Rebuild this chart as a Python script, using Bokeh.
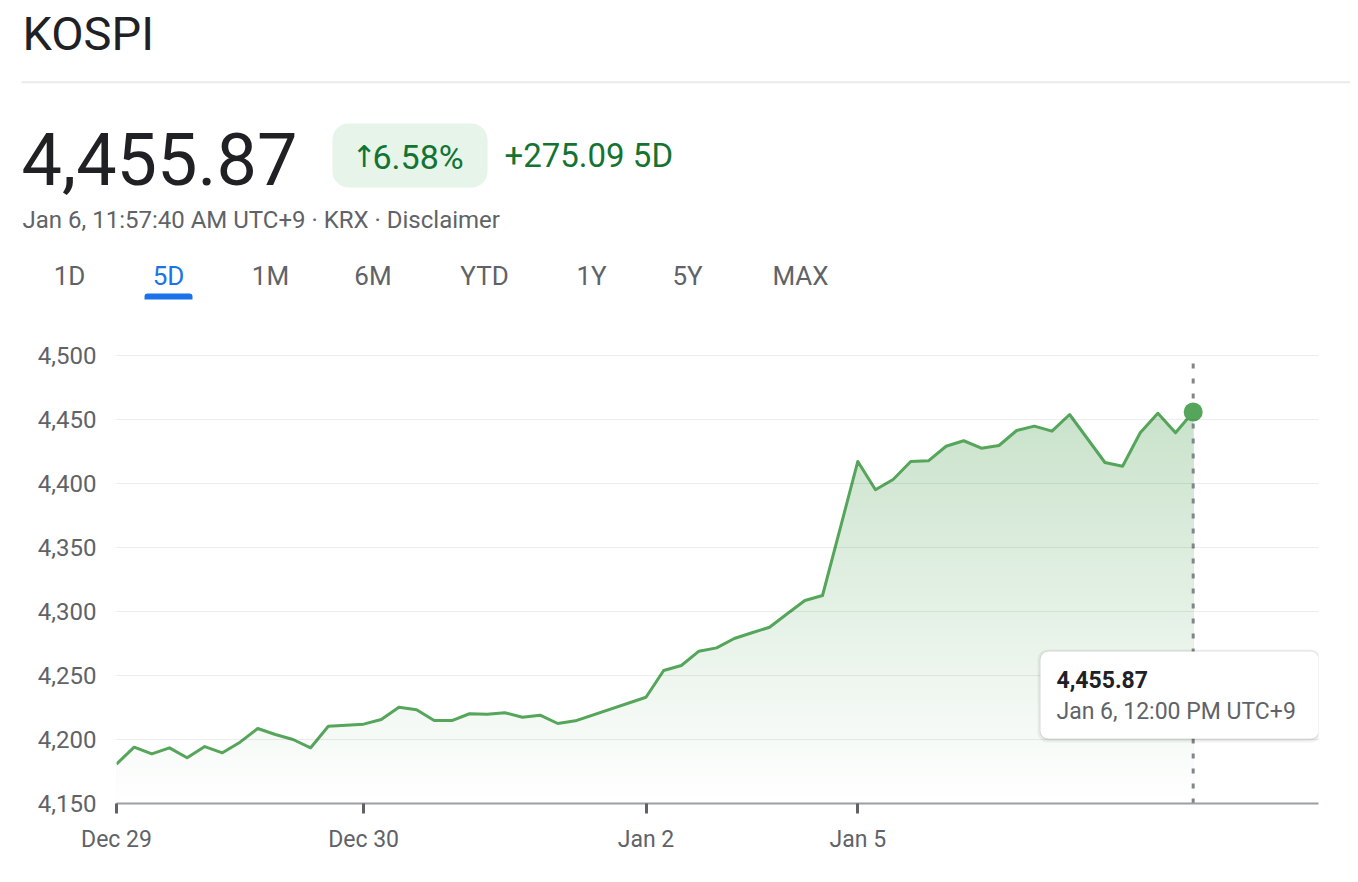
import numpy as np
from bokeh.plotting import figure
from bokeh.layouts import column
from bokeh.models import Range1d, BoxAnnotation, Label, NumeralTickFormatter, FixedTicker
from bokeh.embed import file_html
from bokeh.resources import INLINE

# ---------------- data ----------------
name = "KOSPI"
period = "5D"
quote_time = "Jan 6, 11:57:40 AM UTC+9 \u00b7 KRX \u00b7 Disclaimer"
last_time = "Jan 6, 12:00 PM UTC+9"
tabs = ["1D", "5D", "1M", "6M", "YTD", "1Y", "5Y", "MAX"]
active_tab = "5D"

# 30-minute trading slots (non-trading time removed); missing slots are bridged
slots = [0, 1, 2, 3, 4, 5, 6, 7, 8, 9, 10, 11, 12,
         14, 15, 16, 17, 18, 19, 20, 21, 22, 23, 24, 25, 26,
         30, 31, 32, 33, 34, 35, 36, 37, 38, 39, 40,
         42, 43, 44, 45, 46, 47, 48, 49, 50, 51, 52, 53, 54,
         56, 57, 58, 59, 60, 61]
prices = [4180.78, 4194.0, 4188.8, 4193.5, 4185.7, 4194.5, 4189.6, 4197.9, 4208.6, 4203.9, 4200.0, 4193.5, 4210.4,
          4212.0, 4215.6, 4225.2, 4223.2, 4214.8, 4214.8, 4220.1, 4219.8, 4220.9, 4217.4, 4219.0, 4212.5, 4214.6,
          4233.0, 4253.9, 4257.8, 4269.0, 4271.6, 4278.9, 4283.4, 4287.7, 4298.2, 4308.6, 4312.5,
          4417.2, 4395.1, 4403.1, 4417.2, 4417.7, 4429.1, 4433.4, 4427.6, 4429.7, 4441.4, 4444.8, 4440.9, 4453.9,
          4416.4, 4413.5, 4439.6, 4454.9, 4439.6, 4455.87]
day_tick_slots = [0, 14, 30, 42]
day_tick_labels = ["Dec 29", "Dec 30", "Jan 2", "Jan 5"]
y_ticks = [4150, 4200, 4250, 4300, 4350, 4400, 4450, 4500]

# ---------------- styling ----------------
FONT = "Roboto"
GREEN = (85, 165, 91)
GREEN_HEX = "#%02x%02x%02x" % GREEN
DARK = "#202124"
GREY = "#5f6368"
POS = "#137333"
BLUE = "#1a73e8"

W = 1350
HEAD_H = 320
FT, FL, FR, FB = 32, 116, 32, 65
CH_H = FT + 451 + FB
X_END = 68.1
Y0 = 4150
PX_Y = 1.28
Y_END = Y0 + (CH_H - FT - FB) / PX_Y
PX_X = (W - FL - FR) / X_END

first, last = prices[0], prices[-1]
change = last - first
pct = change / first * 100

# ---------------- header (pixel coordinates, y down) ----------------
h = figure(width=W, height=HEAD_H, x_range=Range1d(0, W), y_range=Range1d(HEAD_H, 0),
           x_axis_type=None, y_axis_type=None, toolbar_location=None,
           output_backend="svg", min_border=0, title=None)
h.outline_line_color = None
h.grid.visible = False


def hl(x, y, text, size, color, style="normal", align="left", font=FONT):
    h.add_layout(Label(x=x, y=y, text=text, text_font=font, text_font_size=f"{size}px",
                       text_color=color, text_font_style=style, text_align=align,
                       text_baseline="middle"))


hl(22, 32.5, name, 47, DARK)
h.segment(x0=[21], y0=[81.7], x1=[W], y1=[81.7], line_color="#e8eaed", line_width=2)
hl(21, 158, f"{last:,.2f}", 72, DARK)
h.add_layout(BoxAnnotation(left=332, right=487, top=123, bottom=187, fill_color="#e6f4ea",
                           fill_alpha=1, line_color=None, border_radius=16, level="underlay"))
hl(351, 156, "\u2191", 30, POS, font="DejaVu Sans")
hl(372, 156, f"{pct:.2f}%", 34, POS)
hl(504, 154.5, f"+{change:,.2f} {period}", 33, POS)
hl(22, 219.2, quote_time, 24, GREY)
tab_centers = [69, 168, 270, 372.5, 484, 591, 687, 800]
for t, cx in zip(tabs, tab_centers):
    hl(cx, 275, t, 26, BLUE if t == active_tab else GREY, align="center")
h.add_layout(BoxAnnotation(left=144, right=192, top=293, bottom=299, fill_color=BLUE, fill_alpha=1,
                           line_color=None, border_radius=(3, 3, 0, 0)))

# ---------------- chart ----------------
p = figure(width=W, height=CH_H, x_range=Range1d(0, X_END), y_range=Range1d(Y0, Y_END),
           toolbar_location=None, output_backend="svg", title=None,
           min_border_left=FL, min_border_right=FR, min_border_top=FT, min_border_bottom=FB)
p.outline_line_color = None
for fig in (h, p):
    try:
        fig.frame_align = False
    except Exception:
        pass

p.xgrid.grid_line_color = None
p.ygrid.ticker = FixedTicker(ticks=y_ticks[1:])
p.ygrid.grid_line_color = "black"
p.ygrid.grid_line_alpha = 0.07
p.ygrid.grid_line_width = 1
p.ygrid.level = "guide"

xa = p.xaxis[0]
xa.ticker = FixedTicker(ticks=day_tick_slots)
xa.major_label_overrides = {s: l for s, l in zip(day_tick_slots, day_tick_labels)}
xa.axis_line_color = "#9aa0a6"
xa.axis_line_width = 2
xa.major_tick_line_color = GREY
xa.major_tick_line_width = 3
xa.major_tick_in = 0
xa.major_tick_out = 10
xa.minor_tick_line_color = None
xa.major_label_text_font = FONT
xa.major_label_text_font_size = "23px"
xa.major_label_text_color = GREY
xa.major_label_standoff = 12

ya = p.yaxis[0]
ya.ticker = FixedTicker(ticks=y_ticks)
ya.formatter = NumeralTickFormatter(format="0,0")
ya.axis_line_color = None
ya.major_tick_line_color = None
ya.minor_tick_line_color = None
ya.major_label_text_font = FONT
ya.major_label_text_font_size = "24px"
ya.major_label_text_color = GREY
ya.major_label_standoff = 14

# gradient fill under the line, as stacked bands
xs = np.array(slots, dtype=float)
ys = np.array(prices, dtype=float)
step = 3.0
his = np.arange(Y0 + step, ys.max() + step, step)
pts = list(xs)
for i in range(len(xs) - 1):
    a, b = ys[i], ys[i + 1]
    for hh in his:
        if (a - hh) * (b - hh) < 0:
            pts.append(xs[i] + (hh - a) / (b - a) * (xs[i + 1] - xs[i]))
px = np.unique(pts)
py = np.interp(px, xs, ys)
for hh in his[::-1]:
    mid = hh - step / 2
    al = max(0.0, 0.29 * (mid - Y0) / 280.0)
    col = tuple(int(round(255 * (1 - al) + c * al)) for c in GREEN)
    p.varea(x=px, y1=Y0, y2=np.minimum(py, hh), fill_color="#%02x%02x%02x" % col)

p.line(xs, ys, line_color=GREEN_HEX, line_width=3, line_join="round")
p.segment(x0=[xs[-1]], y0=[Y0], x1=[xs[-1]], y1=[Y_END - 10 / PX_Y], line_color="#80868b",
          line_width=3, line_dash="5 10")
p.scatter([xs[-1]], [ys[-1]], size=19, fill_color=GREEN_HEX, line_color=None)


# page-pixel -> data helpers for the tooltip
def fx(page_x):
    return (page_x - FL) / PX_X


def fy(page_y):
    return Y0 + (HEAD_H + CH_H - FB - page_y) / PX_Y


def box(l, r, t, b, color, radius=0, alpha=1.0):
    p.add_layout(BoxAnnotation(left=fx(l), right=fx(r), top=fy(t), bottom=fy(b), fill_color=color,
                               fill_alpha=alpha, line_color=None, border_radius=radius))


def lab(x, y, text, size, color, style="normal"):
    p.add_layout(Label(x=fx(x), y=fy(y), text=text, text_font=FONT, text_font_size=f"{size}px",
                       text_color=color, text_font_style=style, text_baseline="middle"))


box(1037, 1321, 649, 742, "black", radius=10, alpha=0.05)
box(1039, 1319, 650, 740, "black", radius=9, alpha=0.07)
box(1040, 1318, 651, 738, "white", radius=8)
lab(1056, 679.2, f"{last:,.2f}", 23, DARK, style="bold")
lab(1056, 710.8, last_time, 23, GREY)

layout = column(h, p)
open("out.html", "w").write(file_html(layout, INLINE))
